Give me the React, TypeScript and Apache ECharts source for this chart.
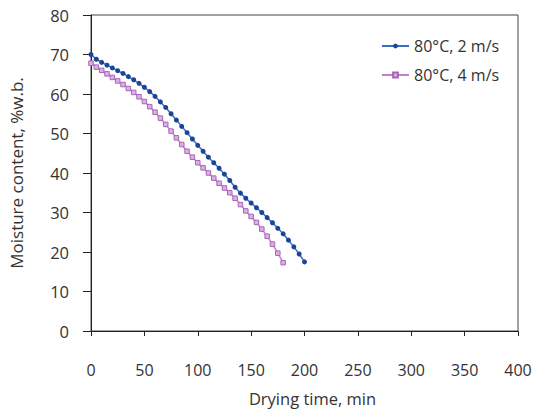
import React, { useEffect, useRef } from "react";
import * as echarts from "echarts";

const times2 = [0,5,10,15,20,25,30,35,40,45,50,55,60,65,70,75,80,85,90,95,100,105,110,115,120,125,130,135,140,145,150,155,160,165,170,175,180,185,190,195,200];
const moisture2 = [70,68.8,68.0,67.3,66.6,65.9,65.2,64.4,63.6,62.7,61.7,60.6,59.4,58.0,56.6,55.0,53.4,51.8,50.2,48.6,47.0,45.5,44.0,42.6,41.2,39.7,38.1,36.4,34.9,33.6,32.4,31.2,30.0,28.7,27.4,26.0,24.6,23.0,21.3,19.5,17.5];
const times4 = [0,5,10,15,20,25,30,35,40,45,50,55,60,65,70,75,80,85,90,95,100,105,110,115,120,125,130,135,140,145,150,155,160,165,170,175,180];
const moisture4 = [67.8,66.8,66.0,65.1,64.2,63.3,62.4,61.4,60.4,59.3,58.1,56.8,55.4,53.9,52.3,50.6,48.9,47.2,45.5,44.0,42.6,41.3,40.0,38.7,37.4,36.2,35.0,33.6,32.0,30.4,29.0,27.5,25.8,24.0,22.0,19.7,17.3];
const seriesNames = ["80°C, 2 m/s", "80°C, 4 m/s"];
const xTitle = "Drying time, min";
const yTitle = "Moisture content, %w.b.";

const FONT = "'Open Sans', 'DejaVu Sans', sans-serif";

export default function App() {
  const ref = useRef<HTMLDivElement>(null);
  useEffect(() => {
    if (!ref.current) return;
    const chart = echarts.init(ref.current, undefined, { renderer: "svg" });
    chart.setOption({
      animation: false,
      backgroundColor: "#fff",
      textStyle: { fontFamily: FONT },
      grid: {
        left: 91, right: 24, top: 15, bottom: 82,
        show: true, borderColor: "#444", borderWidth: 1,
      },
      legend: {
        orient: "vertical",
        left: 376, top: 33,
        itemGap: 13,
        itemWidth: 27, itemHeight: 6,
        textStyle: { fontFamily: FONT, fontSize: 16, color: "#333" },
        data: seriesNames,
      },
      xAxis: {
        type: "value", min: 0, max: 400, interval: 50,
        name: xTitle, nameLocation: "middle", nameGap: 59,
        nameTextStyle: { fontFamily: FONT, fontSize: 16.5, color: "#333", padding: [0, 0, 0, 16] },
        axisLine: { show: true, lineStyle: { color: "#222", width: 1 } },
        axisTick: { show: true, inside: false, length: 5, lineStyle: { color: "#222" } },
        axisLabel: { fontFamily: FONT, fontSize: 16, color: "#333", margin: 31 },
        splitLine: { show: false },
      },
      yAxis: {
        type: "value", min: 0, max: 80, interval: 10,
        name: yTitle, nameLocation: "middle", nameGap: 66,
        nameTextStyle: { fontFamily: FONT, fontSize: 17, color: "#333" },
        axisLine: { show: true, lineStyle: { color: "#222", width: 1 } },
        axisTick: { show: true, inside: false, length: 8, lineStyle: { color: "#222" } },
        axisLabel: { fontFamily: FONT, fontSize: 16.5, color: "#333", margin: 22 },
        splitLine: { show: false },
      },
      series: [
        {
          name: seriesNames[0], type: "line",
          data: times2.map((t, i) => [t, moisture2[i]]),
          symbol: "circle", symbolSize: 5,
          lineStyle: { color: "#3b6cc4", width: 1.5 },
          itemStyle: { color: "#1c4596" },
        },
        {
          name: seriesNames[1], type: "line",
          data: times4.map((t, i) => [t, moisture4[i]]),
          symbol: "rect", symbolSize: 4.5,
          lineStyle: { color: "#c27fd0", width: 1.5 },
          itemStyle: { color: "#dcb0e6", borderColor: "#a864b8", borderWidth: 1 },
        },
      ],
    });
    return () => chart.dispose();
  }, []);
  return <div ref={ref} style={{ width: 542, height: 413, position: "absolute", left: 0, top: 0 }} />;
}
